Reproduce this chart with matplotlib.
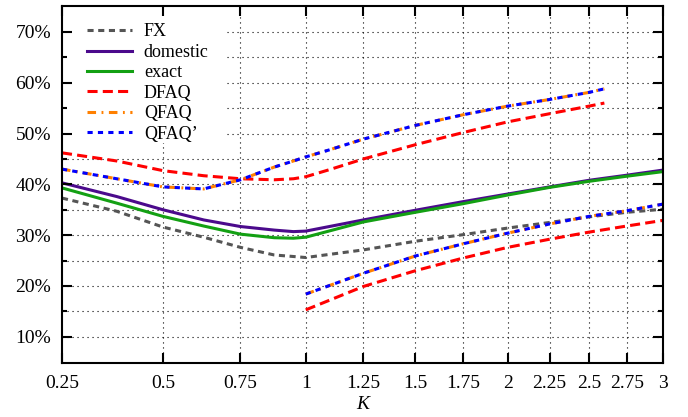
import numpy as np
import matplotlib
matplotlib.use("Agg")
import matplotlib.pyplot as plt
from matplotlib.patches import Rectangle

plt.rcParams['font.family'] = ['Liberation Serif', 'DejaVu Serif']
plt.rcParams['font.size'] = 13

# K values and curves (percent)
k = [0.25, 0.375, 0.5, 0.625, 0.75, 0.875, 0.95, 1.0,
     1.25, 1.5, 1.75, 2.0, 2.25, 2.5, 2.75, 3.0]
fx = [37.3, 34.7, 31.6, 29.6, 27.6, 26.1, 25.8, 25.6,
      27.1, 28.8, 30.1, 31.4, 32.5, 33.6, 34.5, 35.1]
domestic = [40.3, 37.6, 35.0, 33.0, 31.7, 31.0, 30.7, 30.8,
            33.0, 34.9, 36.6, 38.1, 39.5, 40.8, 41.8, 42.8]
exact = [39.3, 36.3, 33.7, 31.8, 30.2, 29.5, 29.4, 29.6,
         32.6, 34.5, 36.2, 37.9, 39.4, 40.6, 41.6, 42.5]

# upper branches run to K~2.6, lower ones start at K=1
k_upper = [0.25, 0.375, 0.5, 0.625, 0.75, 0.875, 0.95, 1.0,
           1.1, 1.25, 1.5, 1.75, 2.0, 2.25, 2.5, 2.6]
dfaq_upper = [46.2, 44.6, 42.7, 41.7, 41.1, 40.9, 41.1, 41.5,
              42.9, 45.0, 47.8, 50.2, 52.3, 53.9, 55.4, 56.0]
qfaq_upper = [43.0, 41.1, 39.5, 39.1, 40.9, 43.4, 44.6, 45.4,
              46.8, 48.9, 51.6, 53.7, 55.4, 56.7, 58.1, 58.8]
k_lower = [1.0, 1.25, 1.5, 1.75, 2.0, 2.25, 2.5, 2.75, 3.0]
dfaq_lower = [15.3, 19.9, 23.0, 25.5, 27.6, 29.2, 30.6, 31.8, 32.9]
qfaq_lower = [18.4, 22.5, 25.9, 28.3, 30.4, 32.2, 33.7, 34.8, 36.1]

xticks = [0.25, 0.5, 0.75, 1, 1.25, 1.5, 1.75, 2, 2.25, 2.5, 2.75, 3]
xticklabels = ['0.25', '0.5', '0.75', '1', '1.25', '1.5', '1.75', '2',
               '2.25', '2.5', '2.75', '3']
yticks = [10, 20, 30, 40, 50, 60, 70]
yminor = [15, 25, 35, 45, 55, 65]

fig = plt.figure(figsize=(6.88, 4.17), dpi=100)
ax = fig.add_axes([0.0901, 0.1302, 0.8731, 0.8554])
ax.set_xscale('function', functions=(np.sqrt, np.square))
ax.set_xlim(0.25, 3)
ax.set_ylim(4.9, 75.1)

# dotted grid drawn by hand so the key box can hide it
grid_kw = dict(color='black', lw=0.8, ls=(0, (1, 3.5)), zorder=1)
for xv in xticks[1:-1]:
    ax.axvline(xv, **grid_kw)
for yv in yticks + yminor:
    ax.axhline(yv, **grid_kw)
ax.add_patch(Rectangle((0, 0.616), 0.2747, 0.384, transform=ax.transAxes,
                       facecolor='white', edgecolor='none', zorder=1.2))

lw = 2.2
c_fx = '#555555'
c_dom = '#4b0a8c'
c_ex = '#13a013'
c_df = '#ff0000'
c_qf = '#ff8000'
c_qp = '#0000ff'

ax.plot(k, fx, color=c_fx, lw=lw, ls=(0, (2.0, 1.5)), label='FX', zorder=2)
ax.plot(k, domestic, color=c_dom, lw=lw, label='domestic', zorder=2)
ax.plot(k, exact, color=c_ex, lw=lw, label='exact', zorder=2)
ax.plot(k_upper, dfaq_upper, color=c_df, lw=lw, ls=(0, (3.3, 1.7)), label='DFAQ', zorder=2)
ax.plot(k_lower, dfaq_lower, color=c_df, lw=lw, ls=(0, (3.3, 1.7)), zorder=2)
ax.plot(k_upper, qfaq_upper, color=c_qf, lw=lw, ls=(0, (2.8, 1.8, 0.6, 1.8)), label='QFAQ', zorder=2)
ax.plot(k_lower, qfaq_lower, color=c_qf, lw=lw, ls=(0, (2.8, 1.8, 0.6, 1.8)), zorder=2)
ax.plot(k_upper, qfaq_upper, color=c_qp, lw=lw, ls=(0, (1.7, 1.7)), label="QFAQ\u2019", zorder=2.1)
ax.plot(k_lower, qfaq_lower, color=c_qp, lw=lw, ls=(0, (1.7, 1.7)), zorder=2.1)

ax.set_xticks(xticks)
ax.set_xticklabels(xticklabels)
ax.set_xticks([], minor=True)
ax.set_yticks(yticks)
ax.set_yticklabels(['%d%%' % v for v in yticks])
ax.set_yticks(yminor, minor=True)
ax.tick_params(which='both', direction='in', top=True, right=True, width=1.5,
               labelsize=14)
ax.tick_params(which='major', length=7.2)
ax.tick_params(which='minor', length=3.6)
ax.tick_params(axis='x', pad=8.5)
ax.tick_params(axis='y', pad=8)
ax.set_axisbelow(False)
for sp in ax.spines.values():
    sp.set_linewidth(1.5)

ax.set_xlabel('K', fontstyle='italic', fontsize=14, labelpad=3)

ax.legend(loc='upper left', bbox_to_anchor=(0.041, 0.951), frameon=False,
          borderpad=0, borderaxespad=0, handlelength=2.5, handletextpad=0.67,
          labelspacing=0.19)

fig.savefig('out.png', dpi=100)
